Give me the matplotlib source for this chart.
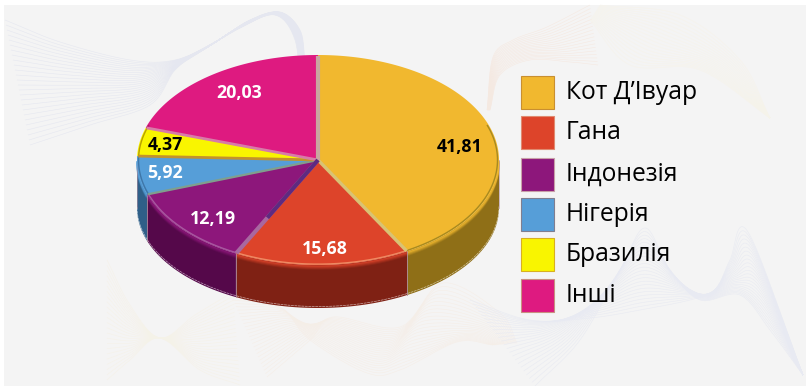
# -*- coding: utf-8 -*-
import numpy as np
import matplotlib
matplotlib.use('Agg')
import matplotlib.pyplot as plt
from matplotlib.patches import Polygon, Rectangle

countries = ['Кот Д’Івуар', 'Гана', 'Індонезія', 'Нігерія', 'Бразилія', 'Інші']
values = [41.81, 15.68, 12.19, 5.92, 4.37, 20.03]
value_labels = ['41,81', '15,68', '12,19', '5,92', '4,37', '20,03']

top_colors = ['#f1b82f', '#dd442a', '#8d177b', '#569ed8', '#f9f500', '#de1a80']
wall_colors = ['#8f6f17', '#7f2114', '#55084a', '#2f5f88', '#8f8f00', '#80104a']
rim_colors = ['#a88a20', '#ef8a62', '#a858a0', '#3f76a8', '#b8a000', '#b01868']
sep_colors = ['#d9c274', '#a868a0', '#7f9f8e', '#c2922c', '#d77ca8', '#c8a6a0']
sep_widths = [2.4, 3.0, 1.6, 2.0, 2.0, 3.0]
label_colors = ['black', 'white', 'white', 'white', 'black', 'white']
label_pos = [(460, 145), (325, 247), (213, 217), (165, 172), (165, 143), (239, 91)]

legend_y = [75, 115, 157, 197, 237, 278]
legend_edges = ['#c98f30', '#e08a70', '#c8a0a8', '#807f90', '#d8b020', '#c89080']

cx, cy, rx, ry = 318, 160, 181, 105
cy_bot, ry_bot = 208, 100


def ell(t, dx=0.0):
    # t in degrees clockwise from the top of the pie
    r = np.radians(t)
    return cx + (rx + dx) * np.sin(r), cy - (ry + dx * ry / rx) * np.cos(r)


def spline(pts, n=30):
    # catmull-rom through the given points
    p = np.array(pts, float)
    p = np.r_[[2 * p[0] - p[1]], p, [2 * p[-1] - p[-2]]]
    out = []
    u = np.linspace(0, 1, n)[:, None]
    for i in range(1, len(p) - 2):
        a, b, c, d = p[i - 1], p[i], p[i + 1], p[i + 2]
        out.append(0.5 * (2 * b + (c - a) * u + (2 * a - 5 * b + 4 * c - d) * u**2
                          + (3 * b - a - 3 * c + d) * u**3))
    return np.vstack(out)


def wave(ax, a, b, color, n=26, lw=0.4):
    # background decoration: family of lines blended between two curves
    ca, cb = spline(a), spline(b)
    for k in np.linspace(0, 1, n):
        c = ca * (1 - k) + cb * k
        ax.plot(c[:, 0], c[:, 1], color=color, lw=lw, zorder=1, solid_capstyle='butt')


plt.rcParams['font.family'] = ['Open Sans', 'DejaVu Sans']
fig = plt.figure(figsize=(8.06, 3.86), dpi=100, facecolor='white')
ax = fig.add_axes([0, 0, 1, 1])
ax.set_xlim(0, 806)
ax.set_ylim(386, 0)
ax.axis('off')
ax.add_patch(Rectangle((4, 5), 802, 381, fc='#f4f4f4', ec='none', zorder=0))

# background waves
wave(ax, [(5, 20), (60, 42), (130, 60), (175, 60), (215, 42), (250, 20), (280, 12), (300, 30), (305, 60)],
     [(30, 145), (90, 125), (150, 105), (175, 70), (200, 52), (240, 28), (275, 15), (295, 40), (300, 90)], '#e5e7f0')
wave(ax, [(487, 110), (493, 57), (513, 40), (547, 27), (590, 5)],
     [(490, 110), (500, 75), (530, 60), (570, 62), (598, 65)], '#f4e9e1', n=18)
wave(ax, [(600, 5), (680, 15), (740, 60), (770, 118)],
     [(590, 20), (630, 65), (700, 70), (770, 118)], '#f6f3ea', n=20)
wave(ax, [(107, 260), (130, 305), (160, 338), (195, 315), (233, 292)],
     [(107, 380), (130, 360), (160, 338), (200, 370), (240, 385)], '#f4f2e8', n=24)
wave(ax, [(233, 300), (280, 307), (310, 340), (367, 373), (400, 370), (457, 342), (493, 345)],
     [(267, 377), (310, 340), (333, 317), (400, 327), (443, 283), (500, 313), (517, 343)], '#f4eee7', n=24)
wave(ax, [(535, 386), (580, 340), (620, 270), (645, 228), (670, 270), (700, 300), (740, 295), (770, 330), (803, 375)],
     [(470, 300), (530, 320), (590, 318), (640, 310), (690, 300), (715, 290), (730, 260), (748, 232), (803, 375)],
     '#e8eaf2', n=24)

# wedge angles come from the values
cum = np.cumsum([0] + values) / np.sum(values) * 360

# walls
for i in range(len(values)):
    t0, t1 = max(cum[i], 90), min(cum[i + 1], 270)
    if t1 <= t0:
        continue
    t = np.linspace(t0, t1, 120)
    x, y = ell(t)
    ybot = cy_bot - ry_bot * np.cos(np.radians(t))
    poly = np.r_[np.c_[x, y], np.c_[x, ybot][::-1]]
    ax.add_patch(Polygon(poly, fc=wall_colors[i], ec='none', zorder=3))
    # glow just below the top edge
    for off, al in zip([1, 2, 3, 4], [0.75, 0.5, 0.3, 0.15]):
        ax.plot(x, y + off, color=top_colors[i], lw=1.2, alpha=al, zorder=4, solid_capstyle='butt')
    # pale broken line along the bottom edge
    ax.plot(x, ybot - 1.5, color='white', lw=0.5, alpha=0.6, zorder=4, dashes=(4, 1))
    # wall edge
    for tt in (t0, t1):
        xe, ye = ell(tt)
        yb = cy_bot - ry_bot * np.cos(np.radians(tt))
        ax.plot([xe, xe], [ye, yb], color='#b090a0', lw=0.6, alpha=0.7, zorder=4)

# top faces
for i in range(len(values)):
    t = np.linspace(cum[i], cum[i + 1], 200)
    x, y = ell(t)
    poly = np.r_[[[cx, cy]], np.c_[x, y]]
    ax.add_patch(Polygon(poly, fc=top_colors[i], ec='none', zorder=5))
    # bevel along the front of the rim
    tr = t[(t > 70) & (t < 290)]
    if len(tr):
        xr, yr = ell(tr, -1.5)
        ax.plot(xr, yr, color=rim_colors[i], lw=1.0, zorder=6, solid_capstyle='butt')

# separators between the slices
for i in range(len(values)):
    xe, ye = ell(cum[i + 1] % 360, -1)
    ax.plot([cx, xe], [cy, ye], color=sep_colors[i], lw=sep_widths[i], zorder=7, solid_capstyle='butt')

# dark notch on the purple slice next to the red one
xa, ya = ell(cum[2], -1)
ax.plot([cx, cx + (xa - cx) * 0.62], [cy, cy + (ya - cy) * 0.62],
        color='#5f2a80', lw=3.0, zorder=8, solid_capstyle='butt')

for s, (lx, ly), c in zip(value_labels, label_pos, label_colors):
    ax.text(lx, ly + 1.5, s, color=c, fontsize=12.8, fontweight='bold', ha='center', va='center', zorder=9)

# legend
for name, col, ec, ly in zip(countries, top_colors, legend_edges, legend_y):
    ax.add_patch(Rectangle((520.5, ly + 0.5), 33.5, 33.5, fc=col, ec=ec, lw=0.8, zorder=5))
    ax.text(566, ly + 17.5, name, color='black', fontsize=17.7, ha='left', va='center', zorder=5)

plt.savefig('out.png', dpi=100, facecolor='white')
